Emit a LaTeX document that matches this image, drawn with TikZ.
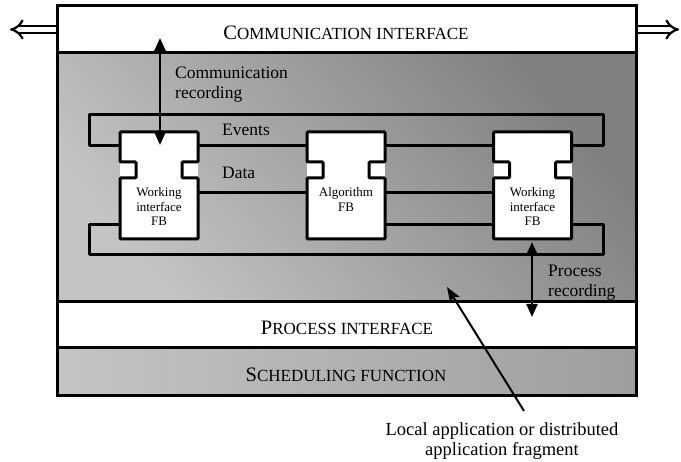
\documentclass[tikz,border=0pt]{standalone}
\usepackage{fontspec}
\setmainfont{Liberation Serif}
\usetikzlibrary{arrows.meta,calc}

\definecolor{panelDark}{gray}{0.50}
\definecolor{panelLight}{gray}{0.77}
\definecolor{schedDark}{gray}{0.62}

% hand-made small capitals: large initial, smaller capitals after it
\newcommand\capsA[2]{{\fontsize{20.5}{20}\selectfont #1}{\fontsize{17}{17}\selectfont #2}}

% outline of a function block with one notch on each side
\newcommand\fboutline[1]{%
  \draw[fbline] (#1.north west) -- (#1.north east)
    -- ($(#1.north east)+(0,30)$) -- ++(-16,0) -- ++(0,16) -- ++(16,0)
    -- (#1.south east) -- (#1.south west)
    -- ($(#1.north west)+(0,46)$) -- ++(16,0) -- ++(0,-16) -- ++(-16,0) -- cycle;}

\tikzset{
  band/.style={draw, line width=3pt, minimum width=579pt, inner sep=0pt, outer sep=0pt},
  fbbox/.style={fill=white, minimum width=78pt, minimum height=107pt, inner sep=0pt, outer sep=0pt},
  fbline/.style={line width=3pt, rounded corners=1pt},
  bus/.style={line width=3pt, line join=round},
  rec/.style={line width=2.5pt, {Triangle[length=13pt,width=11pt]}-{Triangle[length=13pt,width=11pt]}},
  fbtext/.style={font=\fontsize{13}{14.5}\selectfont, align=center, inner sep=0pt, anchor=base},
  lbl/.style={font=\fontsize{17.5}{19.5}\selectfont, align=left, inner sep=0pt, anchor=base west},
  captext/.style={inner sep=0pt, anchor=base},
  side/.style={double, double distance=4.5pt, line width=2.2pt, -{Implies[scale=2]}},
}

\begin{document}
\begin{tikzpicture}[x=1pt,y=-1pt]
\useasboundingbox (0,0) rectangle (681,462);

% layered bands of the device
\node[band, minimum height=249pt, top color=panelDark, bottom color=panelLight, shading angle=-50] (app) at (346.5,177.5) {};
\node[band, fill=white, minimum height=47pt] (comm) at (346.5,29.5) {};
\node[band, fill=white, minimum height=46pt] (proc) at (346.5,325) {};
\node[band, minimum height=48pt, left color=panelLight, right color=schedDark] (sched) at (346.5,372) {};

\node[captext] (commT) at (346,40) {\capsA{C}{OMMUNICATION INTERFACE}};
\node[captext] (procT) at (347,335) {\capsA{P}{ROCESS INTERFACE}};
\node[captext] (schedT) at (346,382) {\capsA{S}{CHEDULING FUNCTION}};

% external communication
\coordinate (leftTip) at (10,29.5);
\coordinate (rightTip) at (679,29.5);
\draw[side] ($(comm.west)+(-1.5,0)$) -- (leftTip);
\draw[side] ($(comm.east)+(1.5,0)$) -- (rightTip);

% function blocks
\node[fbbox] (wi1) at (159,185.5) {};
\node[fbbox] (alg) at (346,185.5) {};
\node[fbbox] (wi3) at (532.5,185.5) {};

% event and data connections
\coordinate (railTL) at (89,115);
\coordinate (railTR) at (603,115);
\coordinate (railBL) at (89,255);
\coordinate (railBR) at (603,255);
\draw[bus] ($(wi1.north west)+(0,14)$) -| (railTL) -- (railTR) |- ($(wi3.north east)+(0,14)$);
\draw[bus] ($(wi1.north west)+(0,93)$) -| (railBL) -- (railBR) |- ($(wi3.north east)+(0,93)$);
\draw[bus] ($(wi1.north east)+(0,14)$) -- ($(alg.north west)+(0,14)$);
\draw[bus] ($(alg.north east)+(0,14)$) -- ($(wi3.north west)+(0,14)$);
\draw[bus] ($(wi1.north east)+(0,61)$) -- ($(alg.north west)+(0,61)$);
\draw[bus] ($(alg.north east)+(0,61)$) -- ($(wi3.north west)+(0,61)$);
\draw[bus] ($(alg.north east)+(0,93)$) -- ($(wi3.north west)+(0,93)$);

\fboutline{wi1}
\fboutline{alg}
\fboutline{wi3}

% block captions (anchored on the baseline of their last line)
\node[fbtext] (wi1T) at (159,226) {Working\\interface\\FB};
\node[fbtext] (algT) at (346,211.5) {Algorithm\\FB};
\node[fbtext] (wi3T) at (532.5,226) {Working\\interface\\FB};

\node[lbl] (evT) at (222,136) {Events};
\node[lbl] (daT) at (222,178.5) {Data};
\node[lbl] (crT) at (175,98.5) {Communication\\recording};
\node[lbl] (prT) at (548,296.5) {Process\\recording};

% recording arrows
\coordinate (crTop) at (160,38);
\coordinate (crBot) at (160,145);
\draw[rec] (crBot) -- (crTop);
\coordinate (prTop) at (532,242);
\coordinate (prBot) at (532,317);
\draw[rec] (prTop) -- (prBot);

% application fragment callout
\node[font=\fontsize{18.5}{20}\selectfont, align=center, inner sep=0pt, anchor=base] (appT) at (502,456) {Local application or distributed\\application fragment};
\coordinate (appTip) at (447,287);
\draw[line width=2pt, -{Stealth[length=15pt,width=11pt,inset=3pt]}] ($(appT.north)+(22,-12)$) -- (appTip);
\end{tikzpicture}
\end{document}
